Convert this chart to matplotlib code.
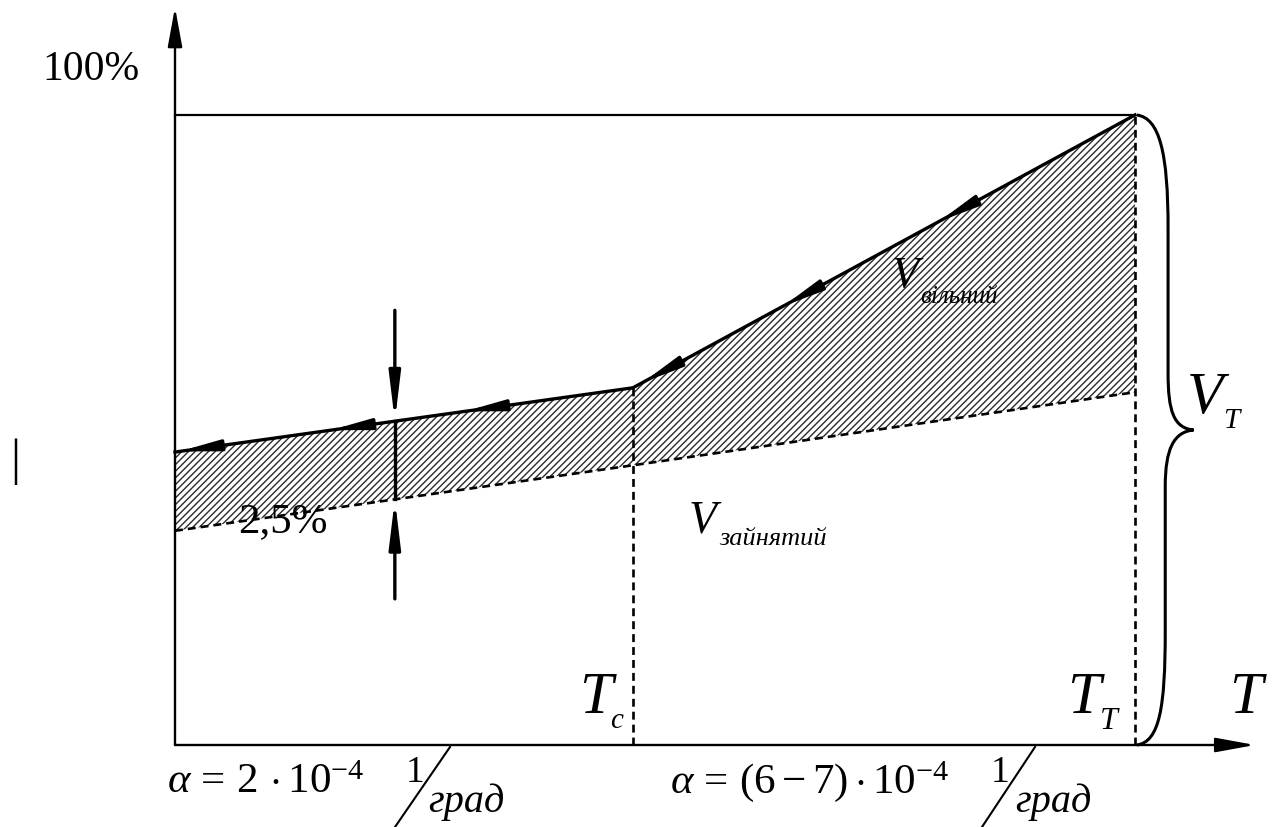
import numpy as np
import matplotlib.pyplot as plt
from matplotlib.path import Path
from matplotlib.patches import PathPatch
from matplotlib.lines import Line2D

plt.rcParams['font.family'] = ['Liberation Serif', 'DejaVu Serif']
plt.rcParams['mathtext.fontset'] = 'custom'
plt.rcParams['mathtext.rm'] = 'Liberation Serif'
plt.rcParams['mathtext.it'] = 'Liberation Serif:italic'
plt.rcParams['hatch.linewidth'] = 1.0

# temperature (arbitrary units, T_T = 100) and volume (%)
T = [0, 47.7, 100]
T_c = 47.7
T_T = 100
V_total = [46.5, 56.7, 100]        # upper boundary, solid line with arrows
V_occupied = [34.0, 44.4, 56.0]    # occupied volume, dashed line
gap_T = 22.9                       # where the 2,5% gap is marked

W, H = 1274, 828
fig = plt.figure(figsize=(W / 100, H / 100), dpi=100)
ax = fig.add_axes([0, 0, 1, 1])
# origin of the diagram sits at pixel (175, 746); 9.6 px per T unit, 6.3 px per %
ax.set_xlim(-175 / 9.6, (W - 175) / 9.6)
ax.set_ylim((746 - H) / 6.3, 746 / 6.3)
ax.axis('off')

dash = (3.0, 1.9)

# hatched free volume
ax.fill_between(T, V_occupied, V_total, facecolor='white', edgecolor='#2b2b2b',
                hatch='/////', linewidth=0)

ax.plot(T, V_total, color='k', lw=2.4)
ax.plot(T, V_occupied, color='k', lw=1.9, dashes=dash)
ax.plot([0, T_T], [100, 100], color='k', lw=1.6)
ax.plot([T_c, T_c], [0, V_total[1]], color='k', lw=1.9, dashes=dash)
ax.plot([T_T, T_T], [0, 100], color='k', lw=1.9, dashes=dash)

# axes with arrows
axis_arrow = dict(arrowstyle='-|>,head_length=1.2,head_width=0.22', lw=1.7,
                  color='k', mutation_scale=20, shrinkA=0, shrinkB=0)
ax.annotate('', xy=(0, 117.1), xytext=(0, 0), arrowprops=axis_arrow)
ax.annotate('', xy=(112.5, 0), xytext=(0, 0), arrowprops=axis_arrow)

# direction arrows along the cooling curve
line_arrow = dict(arrowstyle='-|>,head_length=1.15,head_width=0.16', lw=2.4,
                  color='k', mutation_scale=20, shrinkA=0, shrinkB=0)
for i, fracs in [(1, [0.39, 0.70, 0.98]), (0, [0.367, 0.66, 0.99])]:
    x0, y0 = T[i + 1], V_total[i + 1]
    x1, y1 = T[i], V_total[i]
    for f in fracs:
        tip = (x0 + f * (x1 - x0), y0 + f * (y1 - y0))
        tail = (tip[0] - 0.08 * (x1 - x0), tip[1] - 0.08 * (y1 - y0))
        ax.annotate('', xy=tip, xytext=tail, arrowprops=line_arrow)

# 2,5% gap marker
y_hi = np.interp(gap_T, T, V_total)
y_lo = np.interp(gap_T, T, V_occupied)
gap_arrow = dict(arrowstyle='-|>,head_length=1.4,head_width=0.17', lw=2.4,
                 color='k', mutation_scale=20, shrinkA=0, shrinkB=0)
ax.plot([gap_T, gap_T], [y_lo, y_hi], color='k', lw=2.4)
ax.annotate('', xy=(gap_T, y_hi), xytext=(gap_T, y_hi + 17.6), arrowprops=gap_arrow)
ax.annotate('', xy=(gap_T, y_lo), xytext=(gap_T, y_lo - 15.8), arrowprops=gap_arrow)

# curly brace for V_T
x0, yb, yt, w = T_T + 0.2, 0, 100, 5.9
ym = (yb + yt) / 2
verts = [(x0, yt),
         (x0 + 0.4 * w, yt - 0.5), (x0 + 0.55 * w, yt - 6), (x0 + 0.55 * w, yt - 18),
         (x0 + 0.55 * w, ym + 9),
         (x0 + 0.55 * w, ym + 3), (x0 + 0.65 * w, ym + 0.3), (x0 + w, ym),
         (x0 + 0.65 * w, ym - 0.3), (x0 + 0.5 * w, ym - 3), (x0 + 0.5 * w, ym - 9),
         (x0 + 0.5 * w, yb + 18),
         (x0 + 0.5 * w, yb + 6), (x0 + 0.4 * w, yb + 0.5), (x0, yb)]
codes = [Path.MOVETO] + [Path.CURVE4] * 3 + [Path.LINETO] + [Path.CURVE4] * 6 \
    + [Path.LINETO] + [Path.CURVE4] * 3
ax.add_patch(PathPatch(Path(verts, codes), facecolor='none', edgecolor='k', lw=2.2))


def ftext(xp, yp, s, size, **kw):
    fig.text(xp / W, 1 - yp / H, s, fontsize=size, **kw)


ftext(42, 80, '100%', 30, va='baseline')
ftext(15, 462, '|', 36, ha='center', va='center')
ftext(238, 532, '2,5%', 31, va='baseline')

ftext(905, 287, 'V', 32, style='italic', ha='center', va='baseline')
ftext(920, 303, 'вільний', 18, style='italic', va='baseline')
ftext(703, 533, 'V', 33, style='italic', ha='center', va='baseline')
ftext(719, 545, 'зайнятий', 19, style='italic', va='baseline')
ftext(1205, 413, 'V', 43, style='italic', ha='center', va='baseline')
ftext(1231, 428, 'T', 21, style='italic', ha='center', va='baseline')

ftext(596, 713, 'T', 43, style='italic', ha='center', va='baseline')
ftext(617, 728, 'c', 21, style='italic', ha='center', va='baseline')
ftext(1084, 713, 'T', 43, style='italic', ha='center', va='baseline')
ftext(1109, 729, 'T', 23, style='italic', ha='center', va='baseline')
ftext(1246, 713, 'T', 43, style='italic', ha='center', va='baseline')

# thermal expansion coefficients
ftext(167, 793, r'$\alpha\,=\,2\,\cdot 10^{-4}$', 31, va='baseline')
ftext(415, 782, '1', 27, ha='center', va='baseline')
ftext(428, 812, 'град', 29, style='italic', va='baseline')
ftext(670, 793, r'$\alpha\,=\,(6-7)\cdot 10^{-4}$', 31, va='baseline')
ftext(1000, 782, '1', 27, ha='center', va='baseline')
ftext(1015, 812, 'град', 29, style='italic', va='baseline')
for xa, xb in [(450, 395), (1035, 982)]:
    fig.add_artist(Line2D([xa / W, xb / W], [1 - 748 / H, 0],
                          transform=fig.transFigure, color='k', lw=1.5))

fig.savefig('out.png', dpi=100)
